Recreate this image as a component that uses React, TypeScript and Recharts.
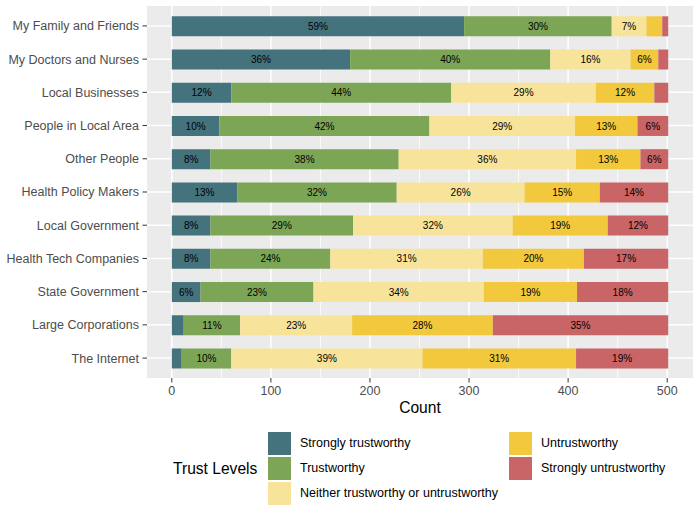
import { BarChart, Bar, XAxis, YAxis, CartesianGrid, LabelList } from 'recharts';

// categories, top to bottom
const categories = [
  'My Family and Friends',
  'My Doctors and Nurses',
  'Local Businesses',
  'People in Local Area',
  'Other People',
  'Health Policy Makers',
  'Local Government',
  'Health Tech Companies',
  'State Government',
  'Large Corporations',
  'The Internet',
];

// counts per trust level
const stronglyTrustworthy = [295, 180, 60, 48, 39, 66, 39, 39, 29, 12, 10];
const trustworthy = [149, 202, 222, 212, 190, 161, 144, 121, 114, 57, 50];
const neither = [35, 81, 146, 147, 179, 129, 161, 154, 172, 113, 193];
const untrustworthy = [16, 28, 59, 63, 65, 76, 96, 102, 94, 142, 155];
const stronglyUntrustworthy = [6, 10, 14, 31, 28, 69, 61, 85, 92, 177, 93];

const xTicks = [0, 100, 200, 300, 400, 500];
const xMinorTicks = [50, 150, 250, 350, 450];

const levels = [
  { key: 'st', name: 'Strongly trustworthy', values: stronglyTrustworthy },
  { key: 't', name: 'Trustworthy', values: trustworthy },
  { key: 'n', name: 'Neither trustworthy or untrustworthy', values: neither },
  { key: 'u', name: 'Untrustworthy', values: untrustworthy },
  { key: 'su', name: 'Strongly untrustworthy', values: stronglyUntrustworthy },
];

const colors: Record<string, string> = {
  st: '#44737E',
  t: '#7DA556',
  n: '#F8E39A',
  u: '#F2C83D',
  su: '#C96566',
};

// hide labels for thin segments
const LABEL_MIN_PCT = 5;

const rows = categories.map((name, i) => {
  const row: Record<string, any> = { name };
  const total = levels.reduce((s, l) => s + l.values[i], 0);
  levels.forEach(l => {
    const pct = Math.round((l.values[i] / total) * 100);
    row[l.key] = l.values[i];
    row[`${l.key}Label`] = pct >= LABEL_MIN_PCT ? `${pct}%` : '';
  });
  return row;
});

// legend laid out like ggplot: two columns, filled column-wise
const legendColumns = [
  { keyX: 268, labelX: 300, items: ['st', 't', 'n'] },
  { keyX: 509, labelX: 541, items: ['u', 'su'] },
];

// plain single-line tick so long category names don't wrap
const CategoryTick = ({ x, y, payload }: any) => (
  <text x={x} y={y} dy="0.355em" textAnchor="end" fontSize={12.5} fill="#4D4D4D">
    {payload.value}
  </text>
);

function TrustLegend() {
  return (
    <>
      <div
        style={{
          position: 'absolute',
          left: 173,
          top: 459,
          fontSize: 15.6,
          lineHeight: '19px',
          color: '#000',
        }}
      >
        Trust Levels
      </div>
      {legendColumns.map((col, c) =>
        col.items.map((k, r) => {
          const level = levels.find(l => l.key === k)!;
          const top = 432 + r * 25;
          return (
            <div key={`${c}-${k}`}>
              <div
                style={{
                  position: 'absolute',
                  left: col.keyX,
                  top,
                  width: 23,
                  height: 23,
                  backgroundColor: colors[k],
                }}
              />
              <div
                style={{
                  position: 'absolute',
                  left: col.labelX,
                  top: top + 3,
                  fontSize: 12.5,
                  lineHeight: '17px',
                  color: '#000',
                  whiteSpace: 'nowrap',
                }}
              >
                {level.name}
              </div>
            </div>
          );
        })
      )}
    </>
  );
}

export default function App() {
  return (
    <div
      style={{
        position: 'absolute',
        left: 0,
        top: 0,
        width: 700,
        height: 511,
        background: '#fff',
        fontFamily: '"Liberation Sans", Arial, sans-serif',
      }}
    >
      <BarChart
        width={700}
        height={420}
        layout="vertical"
        data={rows}
        margin={{ top: 6, right: 7, left: 0, bottom: 0 }}
      >
        <CartesianGrid
          fill="#EBEBEB"
          stroke="#FFFFFF"
          strokeWidth={0.75}
          horizontal={false}
          verticalValues={xMinorTicks}
        />
        <CartesianGrid
          stroke="#FFFFFF"
          strokeWidth={1.5}
          verticalValues={xTicks}
          horizontalValues={categories}
        />
        <XAxis
          type="number"
          domain={[-25.05, 526.05]}
          allowDataOverflow
          ticks={xTicks}
          axisLine={false}
          tickLine={{ stroke: '#333333', strokeWidth: 1 }}
          tickSize={4.5}
          tickMargin={3.5}
          tick={{ fontSize: 12.5, fill: '#4D4D4D' }}
          height={42}
          label={{ value: 'Count', position: 'insideBottom', offset: 7, fontSize: 15.6, fill: '#000' }}
        />
        <YAxis
          type="category"
          dataKey="name"
          width={147}
          interval={0}
          padding={{ top: 3.3, bottom: 3.3 }}
          axisLine={false}
          tickLine={{ stroke: '#333333', strokeWidth: 1 }}
          tickSize={4.5}
          tickMargin={3.5}
          tick={<CategoryTick />}
        />
        {levels.map(l => (
          <Bar
            key={l.key}
            dataKey={l.key}
            name={l.name}
            stackId="trust"
            fill={colors[l.key]}
            barSize={20}
            isAnimationActive={false}
          >
            <LabelList dataKey={`${l.key}Label`} position="center" fill="#000" fontSize={10} />
          </Bar>
        ))}
      </BarChart>
      <TrustLegend />
    </div>
  );
}
